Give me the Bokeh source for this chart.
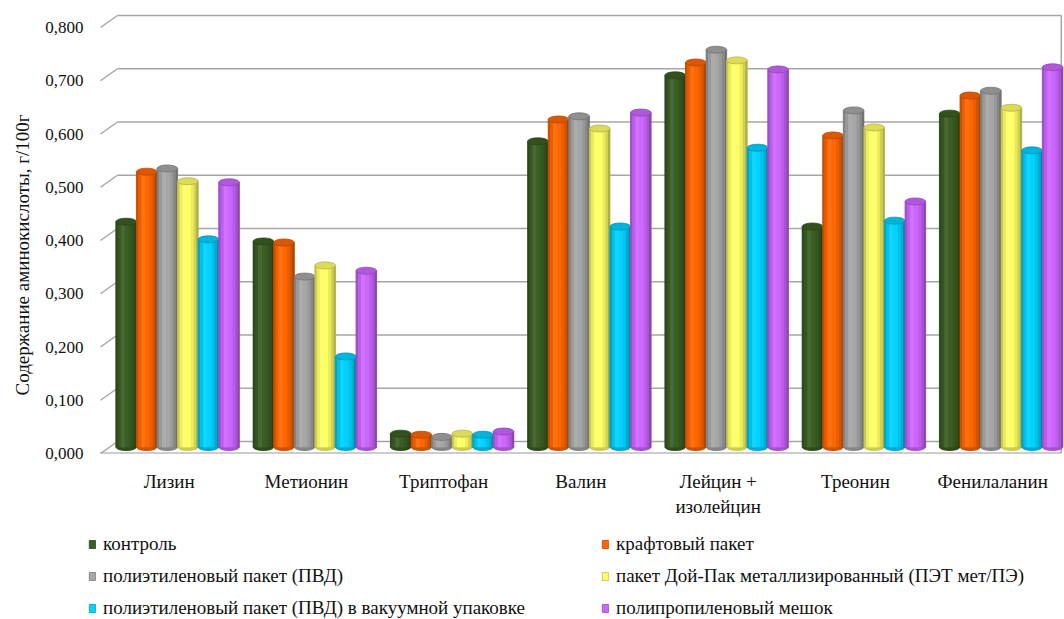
import numpy as np
from bokeh.plotting import figure
from bokeh.layouts import column
from bokeh.models import (ColumnDataSource, Range1d, LinearAxis, FixedTicker,
                          CustomJSTickFormatter, Legend, LegendItem, Title)
from bokeh.transform import dodge
from bokeh.embed import file_html
from bokeh.resources import INLINE

# ---- data -------------------------------------------------------------
categories = ["Лизин", "Метионин", "Триптофан", "Валин",
              "Лейцин +\nизолейцин", "Треонин", "Фенилаланин"]

series_names = [
    "контроль",
    "крафтовый пакет",
    "полиэтиленовый пакет (ПВД)",
    "пакет Дой-Пак металлизированный (ПЭТ мет/ПЭ)",
    "полиэтиленовый пакет (ПВД) в вакуумной упаковке",
    "полипропиленовый мешок",
]

control   = [0.424, 0.387, 0.026, 0.575, 0.699, 0.415, 0.627]
kraft     = [0.518, 0.385, 0.024, 0.616, 0.723, 0.586, 0.661]
pe_bag    = [0.524, 0.321, 0.020, 0.622, 0.747, 0.633, 0.670]
doypack   = [0.500, 0.342, 0.026, 0.599, 0.727, 0.601, 0.638]
pe_vacuum = [0.391, 0.171, 0.024, 0.415, 0.563, 0.426, 0.558]
pp_sack   = [0.498, 0.332, 0.030, 0.629, 0.710, 0.462, 0.714]

series_values = [control, kraft, pe_bag, doypack, pe_vacuum, pp_sack]
colors = ["#3A5E24", "#FF6600", "#A6A6A6", "#FFFF66", "#00D2FF", "#CC66FF"]

y_ticks = [0.0, 0.1, 0.2, 0.3, 0.4, 0.5, 0.6, 0.7, 0.8]
y_title = "Содержание аминокислоты, г/100г"

# ---- layout constants (pixels) ---------------------------------------
W, H = 1064, 619
LEGEND_H = 94            # strip under the chart that holds the legend
CHART_H = H - LEGEND_H
FRAME_LEFT = 82          # right edge of the value labels
FLOOR_LEFT = 99          # front-left corner of the floor
FRAME_BOTTOM = 453       # front edge of the floor
BASE_PX = 447            # base of the columns (mid depth)
K = 532.5                # pixels per 1.0 of value
CAT_PX = 137.4           # width of one category on the front edge
DEPTH_X, DEPTH_Y = 17, 12  # front-to-back perspective shift
CAP_H = 7                # height of the cylinder caps
FONT = "Liberation Serif"
TEXT = "#111111"

n = len(categories)
x_start = -(FLOOR_LEFT - FRAME_LEFT) / CAT_PX
x_end = (W - FLOOR_LEFT) / CAT_PX
front_off = -(FRAME_BOTTOM - BASE_PX) / K
back_off = (DEPTH_Y - (FRAME_BOTTOM - BASE_PX)) / K
back_dx = DEPTH_X / CAT_PX
mid_dx = back_dx / 2
BW = 20.6 / CAT_PX

p = figure(width=W, height=CHART_H, output_backend="svg", toolbar_location=None,
           x_range=Range1d(x_start, x_end),
           y_range=Range1d(front_off, BASE_PX / K),
           y_axis_location=None,
           min_border_left=FRAME_LEFT, min_border_right=0,
           min_border_top=0, min_border_bottom=CHART_H - FRAME_BOTTOM)
p.outline_line_color = None
p.xgrid.visible = False
p.ygrid.visible = False
p.background_fill_color = "white"

# value axis, labelled along the front edge
p.extra_y_ranges = {"front": Range1d(0, FRAME_BOTTOM / K)}
yax = LinearAxis(y_range_name="front")
yax.ticker = FixedTicker(ticks=y_ticks)
yax.formatter = CustomJSTickFormatter(code="return tick.toFixed(3).replace('.', ',')")
yax.axis_line_color = None
yax.major_tick_line_color = None
yax.minor_tick_line_color = None
yax.major_tick_out = 0
yax.major_tick_in = 0
yax.major_label_standoff = 0
yax.major_label_text_font = FONT
yax.major_label_text_font_size = "17px"
yax.major_label_text_color = TEXT
p.add_layout(yax, "left")

# axis title on the outer side of the value axis
p.add_layout(Title(text=y_title, align="left", offset=58, standoff=19,
                   text_font=FONT, text_font_size="19px",
                   text_font_style="normal", text_color=TEXT), "left")

# category axis
xax = p.xaxis[0]
xax.ticker = FixedTicker(ticks=[i + 0.5 for i in range(n)])
xax.major_label_overrides = {i + 0.5: c for i, c in enumerate(categories)}
xax.axis_line_color = None
xax.major_tick_line_color = None
xax.minor_tick_line_color = None
xax.major_tick_out = 0
xax.major_tick_in = 0
xax.major_label_standoff = 17
xax.major_label_text_font = FONT
xax.major_label_text_font_size = "19px"
xax.major_label_text_color = TEXT

GRID = "#A6A6A6"

# floor
p.patch([0, x_end, x_end + back_dx, back_dx],
        [front_off, front_off, back_off, back_off],
        fill_color="white", line_color=None)

# back-wall gridlines and the short diagonals on the side wall
gy = [t + back_off for t in y_ticks]
p.segment(x0=[back_dx] * len(y_ticks), y0=gy, x1=[n] * len(y_ticks), y1=gy,
          line_color=GRID, line_width=1.7)
p.segment(x0=[0] * len(y_ticks), y0=[t + front_off for t in y_ticks],
          x1=[back_dx] * len(y_ticks), y1=gy,
          line_color=GRID, line_width=1.5)
# right edge and the front edge of the floor
p.segment(x0=[n], y0=[front_off], x1=[n], y1=[y_ticks[-1] + back_off],
          line_color=GRID, line_width=1.5)
p.line([0, n], [front_off, front_off], line_color="#9A9A9A", line_width=2.2)


def tint(hex_color, f):
    r, g, b = (int(hex_color[i:i + 2], 16) for i in (1, 3, 5))
    if f <= 1:
        r, g, b = (c * f for c in (r, g, b))
    else:
        t = f - 1
        r, g, b = (c + (255 - c) * t for c in (r, g, b))
    return "#%02x%02x%02x" % tuple(int(round(min(255, max(0, c)))) for c in (r, g, b))


# shading strips across a column: (left, right, tint factor), in column widths
STRIPS = [(-0.50, -0.40, 0.78), (-0.40, -0.26, 0.92), (-0.26, -0.06, 1.07),
          (-0.06, 0.14, 1.00), (0.14, 0.28, 0.92), (0.28, 0.40, 0.82),
          (0.40, 0.50, 0.68)]

sources = []
for j, (vals, col) in enumerate(zip(series_values, colors)):
    xc = [i + 0.5 + mid_dx + (j - 2.5) * BW for i in range(n)]
    src = ColumnDataSource(dict(x=xc, top=vals))
    sources.append(src)
    p.ellipse(x="x", y=0, width=BW, height=CAP_H, height_units="screen",
              source=src, fill_color=tint(col, 0.8), line_color=None)
    p.vbar(x="x", top="top", bottom=0, width=BW, source=src,
           fill_color=col, line_color=tint(col, 0.7), line_width=0.8)
    for a, b, f in STRIPS:
        p.vbar(x=dodge("x", (a + b) / 2 * BW, range=p.x_range), top="top",
               bottom=0, width=(b - a) * BW, source=src,
               fill_color=tint(col, f), line_color=None)
    p.ellipse(x="x", y="top", width=BW, height=CAP_H, height_units="screen",
              source=src, fill_color=tint(col, 0.86),
              line_color=tint(col, 0.7), line_width=0.8)

# ---- legend strip -----------------------------------------------------
leg = figure(width=W, height=LEGEND_H, output_backend="svg", toolbar_location=None,
             x_range=Range1d(0, 1), y_range=Range1d(0, 1),
             x_axis_location=None, y_axis_location=None,
             min_border_left=FRAME_LEFT, min_border_right=0,
             min_border_top=0, min_border_bottom=0, outline_line_color=None)
leg.xgrid.visible = False
leg.ygrid.visible = False

items = []
for name, col, src in zip(series_names, colors, sources):
    # hidden copy of each series, used only for its legend swatch
    swatch = leg.vbar(x="x", top="top", width=BW, source=src, fill_color=col,
                      line_color=tint(col, 0.75), line_width=0.8, visible=False)
    items.append(LegendItem(label=name, renderers=[swatch]))

legend = Legend(items=items, location=(87 - FRAME_LEFT, 0),
                orientation="horizontal", ncols=2,
                glyph_width=8, glyph_height=10, label_standoff=7,
                label_width=488, label_height=21, spacing=10,
                padding=0, margin=0, border_line_color=None,
                background_fill_alpha=0, inactive_fill_alpha=0,
                label_text_font=FONT, label_text_font_size="19px",
                label_text_color=TEXT)
leg.add_layout(legend)

layout = column(p, leg, spacing=0)
open("out.html", "w").write(file_html(layout, INLINE))
